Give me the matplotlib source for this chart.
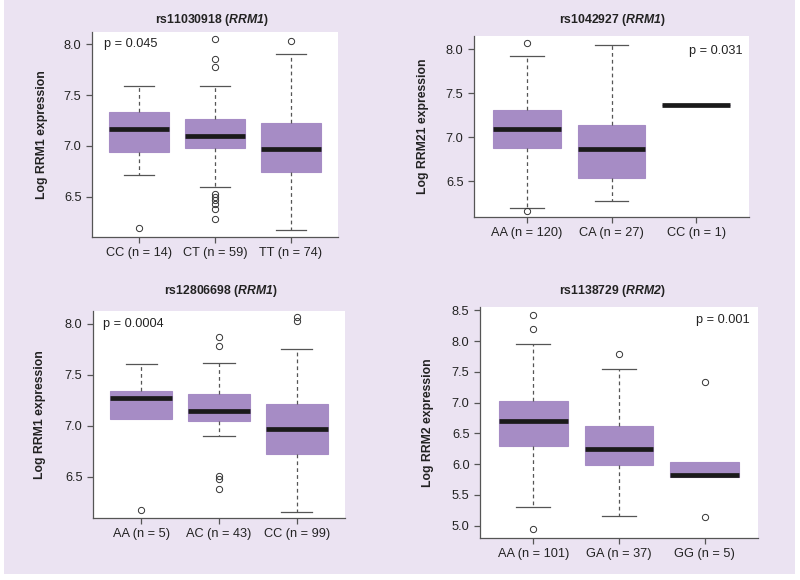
import matplotlib
matplotlib.use("Agg")
import matplotlib.pyplot as plt
from matplotlib.patches import Rectangle

plt.rcParams['font.family'] = ['Liberation Sans', 'DejaVu Sans']
plt.rcParams['mathtext.fontset'] = 'custom'
plt.rcParams['mathtext.it'] = 'Liberation Sans:italic:bold'
plt.rcParams['mathtext.rm'] = 'Liberation Sans:italic:bold'

# panel 1: rs11030918 (RRM1)
p1_labels = ["CC (n = 14)", "CT (n = 59)", "TT (n = 74)"]
p1_whislo = [6.71, 6.60, 6.17]
p1_q1 = [6.94, 6.98, 6.74]
p1_med = [7.17, 7.10, 6.97]
p1_q3 = [7.33, 7.26, 7.23]
p1_whishi = [7.59, 7.59, 7.90]
p1_fliers = [[6.19], [8.05, 7.86, 7.78, 6.53, 6.50, 6.47, 6.43, 6.38, 6.28], [8.03]]

# panel 2: rs1042927 (RRM1)
p2_labels = ["AA (n = 120)", "CA (n = 27)", "CC (n = 1)"]
p2_whislo = [6.19, 6.27, 7.37]
p2_q1 = [6.88, 6.54, 7.37]
p2_med = [7.09, 6.87, 7.37]
p2_q3 = [7.31, 7.14, 7.37]
p2_whishi = [7.92, 8.045, 7.37]
p2_fliers = [[8.075, 6.16], [], []]

# panel 3: rs12806698 (RRM1)
p3_labels = ["AA (n = 5)", "AC (n = 43)", "CC (n = 99)"]
p3_whislo = [7.07, 6.90, 6.16]
p3_q1 = [7.07, 7.05, 6.72]
p3_med = [7.27, 7.15, 6.97]
p3_q3 = [7.345, 7.315, 7.21]
p3_whishi = [7.60, 7.61, 7.755]
p3_fliers = [[6.18], [7.87, 7.78, 6.51, 6.48, 6.38], [8.065, 8.026]]

# panel 4: rs1138729 (RRM2)
p4_labels = ["AA (n = 101)", "GA (n = 37)", "GG (n = 5)"]
p4_whislo = [5.30, 5.155, 5.79]
p4_q1 = [6.29, 5.98, 5.79]
p4_med = [6.70, 6.25, 5.83]
p4_q3 = [7.025, 6.625, 6.03]
p4_whishi = [7.96, 7.54, 6.03]
p4_fliers = [[8.42, 8.19, 4.95], [7.79], [7.33, 5.145]]

W, H = 800, 580
fig = plt.figure(figsize=(8, 5.8), dpi=100)
fig.patches.append(Rectangle((4 / W, 1 - 574 / H), 791 / W, 574 / H,
                             transform=fig.transFigure, facecolor="#ebe3f2",
                             edgecolor="none", zorder=-10))

box_color = "#a68cc5"
line_gray = "#555555"


def make_stats(labels, whislo, q1, med, q3, whishi, fliers):
    return [dict(label=l, whislo=a, q1=b, med=c, q3=d, whishi=e, fliers=f)
            for l, a, b, c, d, e, f in zip(labels, whislo, q1, med, q3, whishi, fliers)]


def panel(rect, stats, ylim, yticks, ylabel, title, title_xy, ptext, pxy, ylab_x):
    x0, y0, x1, y1 = rect
    ax = fig.add_axes([x0 / W, 1 - y1 / H, (x1 - x0) / W, (y1 - y0) / H])
    ax.set_facecolor("white")
    bp = ax.bxp(stats, widths=0.8, patch_artist=True, showfliers=True,
                boxprops=dict(facecolor=box_color, edgecolor=box_color, linewidth=0.8),
                medianprops=dict(color="#1a1a1a", linewidth=3.4, solid_capstyle="butt"),
                whiskerprops=dict(color=line_gray, linestyle=(0, (3, 2.5)), linewidth=0.9),
                capprops=dict(color=line_gray, linewidth=0.9),
                flierprops=dict(marker="o", markersize=4.5, markerfacecolor="none",
                                markeredgecolor="#333333", markeredgewidth=0.7))
    # no whisker/cap where the whisker ends at the box edge
    for i, st in enumerate(stats):
        if st["whislo"] >= st["q1"]:
            bp["caps"][2 * i].set_visible(False)
            bp["whiskers"][2 * i].set_visible(False)
        if st["whishi"] <= st["q3"]:
            bp["caps"][2 * i + 1].set_visible(False)
            bp["whiskers"][2 * i + 1].set_visible(False)
    ax.set_xlim(0.38, 3.62)
    ax.set_ylim(*ylim)
    ax.set_yticks(yticks)
    ax.set_yticklabels(["%.1f" % v for v in yticks])
    for s in ["top", "right"]:
        ax.spines[s].set_visible(False)
    for s in ["left", "bottom"]:
        ax.spines[s].set_color(line_gray)
        ax.spines[s].set_linewidth(0.9)
    ax.tick_params(colors=line_gray, labelcolor="#222222", labelsize=9.2,
                   length=4.5, width=0.9, pad=3)
    ax.set_ylabel(ylabel, fontsize=8.8, fontweight="bold", color="#222222")
    ax.yaxis.set_label_coords((ylab_x - x0) / (x1 - x0), 0.5)
    fig.text(title_xy[0] / W, 1 - title_xy[1] / H, title, fontsize=8.8,
             fontweight="bold", ha="center", va="center", color="#222222")
    fig.text(pxy[0] / W, 1 - pxy[1] / H, ptext, fontsize=9.2, ha="center",
             va="center", color="#222222")
    return ax


ticks_a = [6.5, 7.0, 7.5, 8.0]
ticks_b = [5.0, 5.5, 6.0, 6.5, 7.0, 7.5, 8.0, 8.5]

panel((92, 32, 338, 237),
      make_stats(p1_labels, p1_whislo, p1_q1, p1_med, p1_q3, p1_whishi, p1_fliers),
      (6.103, 8.121), ticks_a, "Log RRM1 expression",
      r"rs11030918 ($\mathit{RRM1}$)", (212, 20), "p = 0.045", (131, 44), 48)

panel((474, 36, 749, 217),
      make_stats(p2_labels, p2_whislo, p2_q1, p2_med, p2_q3, p2_whishi, p2_fliers),
      (6.093, 8.152), ticks_a, "Log RRM21 expression",
      r"rs1042927 ($\mathit{RRM1}$)", (612, 20), "p = 0.031", (716, 51), 429)

panel((93, 311, 345, 518),
      make_stats(p3_labels, p3_whislo, p3_q1, p3_med, p3_q3, p3_whishi, p3_fliers),
      (6.099, 8.123), ticks_a, "Log RRM1 expression",
      r"rs12806698 ($\mathit{RRM1}$)", (221, 291), "p = 0.0004", (133, 324), 46)

panel((480, 307, 758, 538),
      make_stats(p4_labels, p4_whislo, p4_q1, p4_med, p4_q3, p4_whishi, p4_fliers),
      (4.80, 8.554), ticks_b, "Log RRM2 expression",
      r"rs1138729 ($\mathit{RRM2}$)", (612, 291), "p = 0.001", (723, 320), 434)

fig.savefig("out.png", dpi=100)
